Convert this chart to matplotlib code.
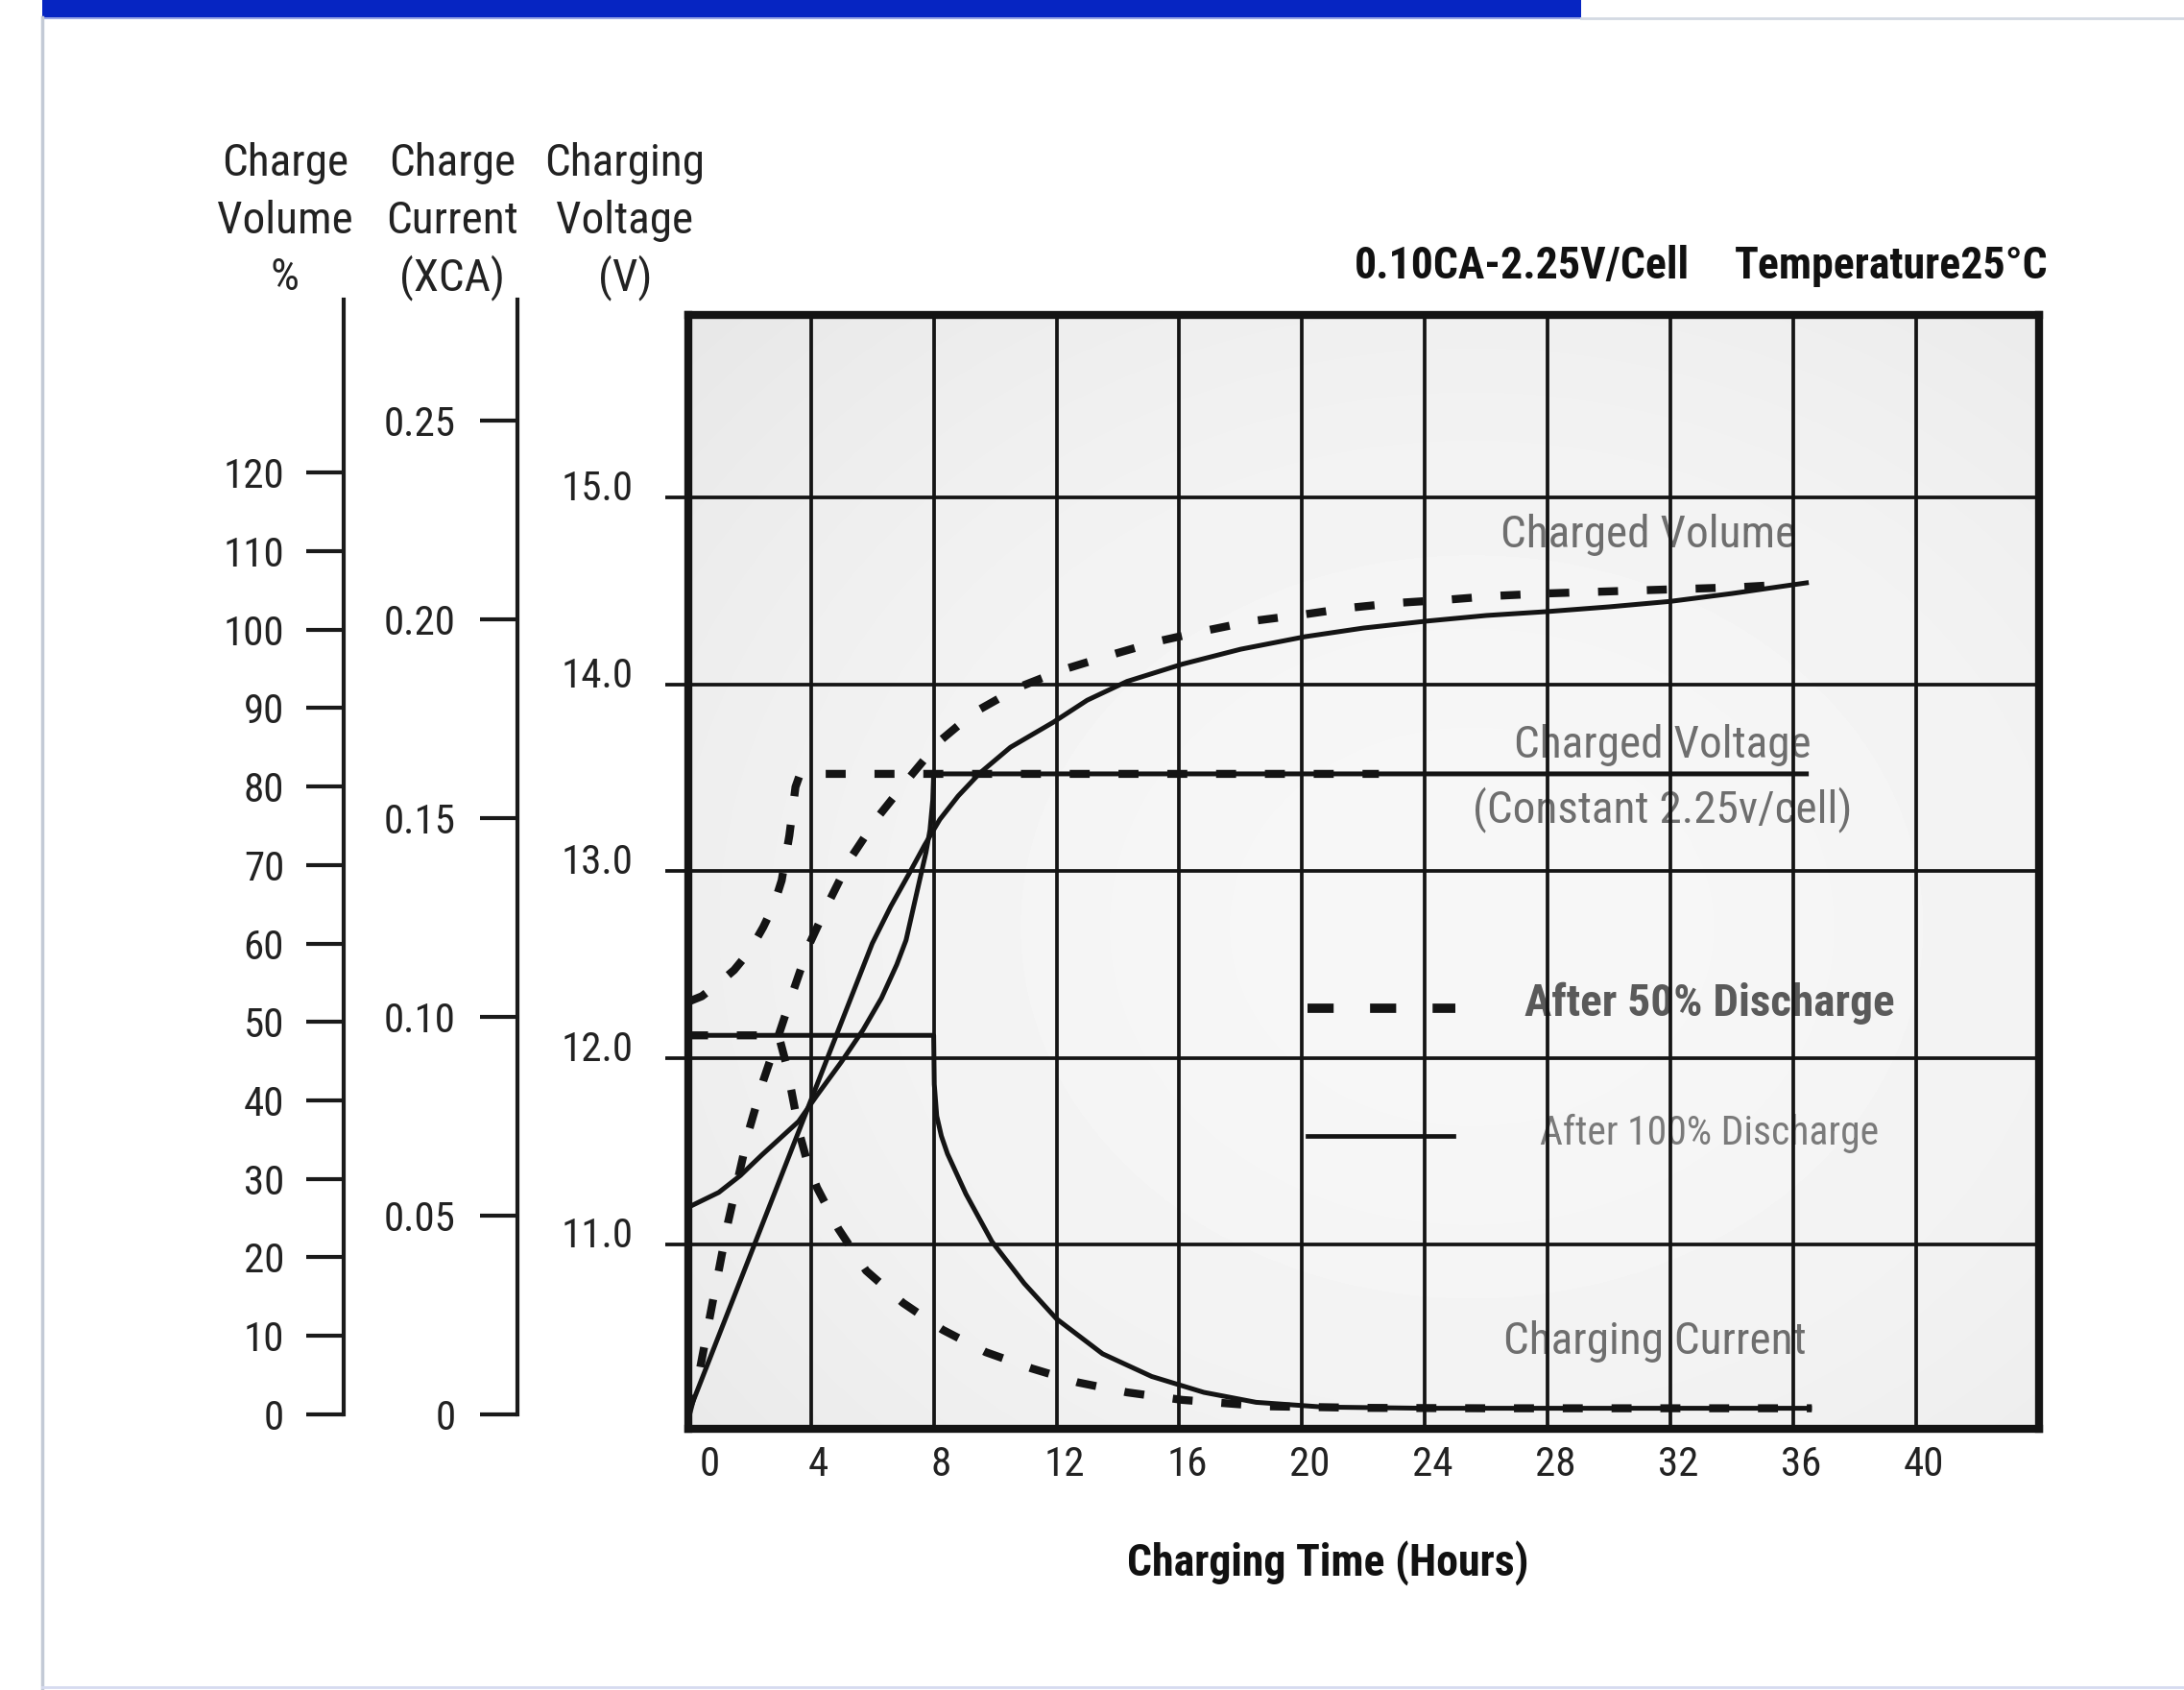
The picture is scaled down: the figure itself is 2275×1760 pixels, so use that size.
import numpy as np
import matplotlib
matplotlib.use("Agg")
import matplotlib.pyplot as plt
from matplotlib import font_manager
from matplotlib.transforms import ScaledTranslation
from matplotlib.patches import Rectangle
from matplotlib.lines import Line2D

# ---------------- data ----------------
X_TICKS = [0, 4, 8, 12, 16, 20, 24, 28, 32, 36, 40]
V_TICKS = [11.0, 12.0, 13.0, 14.0, 15.0]
V_LABELS = ["11.0", "12.0", "13.0", "14.0", "15.0"]
VOL_TICKS = [0, 10, 20, 30, 40, 50, 60, 70, 80, 90, 100, 110, 120]
CUR_TICKS = [0, 0.05, 0.10, 0.15, 0.20, 0.25]
CUR_LABELS = ["0", "0.05", "0.10", "0.15", "0.20", "0.25"]

# After 100% discharge (solid)
HOURS_VOL_100 = [0, 1, 2, 3, 4, 5, 6, 6.6, 7.2, 7.7, 8.2, 8.8, 9.5, 10.5, 11.9, 13.0,
                 14.3, 16.1, 18.0, 20.1, 22.0, 24.1, 26.0, 28.0, 30.0, 32.0, 34.0, 36.5]
VOL_100 = [0, 10, 20, 30, 40, 50, 60, 64.7, 68.9, 72.5, 75.8, 78.8, 81.7, 85.0, 88.2, 91.0,
           93.4, 95.6, 97.5, 99.1, 100.2, 101.1, 101.8, 102.3, 102.9, 103.6, 104.6, 106.0]

HOURS_V_100 = [0, 1.0, 1.7, 2.4, 3.0, 3.6, 4.2, 5.0, 5.7, 6.3, 6.8, 7.1, 7.5, 7.75,
               7.88, 7.97, 8.0, 36.5]
V_100 = [11.20, 11.28, 11.37, 11.48, 11.57, 11.66, 11.80, 11.98, 12.15, 12.32, 12.50,
         12.63, 12.92, 13.10, 13.22, 13.38, 13.52, 13.52]

HOURS_C_100 = [0, 8.0, 8.02, 8.1, 8.25, 8.45, 9.05, 9.9, 10.95, 12.0, 13.5, 15.1, 16.8,
               18.5, 20.7, 24.0, 28.0, 32.0, 36.6]
C_100 = [0.0953, 0.0953, 0.083, 0.075, 0.070, 0.0655, 0.0554, 0.0434, 0.0329, 0.0240,
         0.0152, 0.0095, 0.0055, 0.0030, 0.0018, 0.0015, 0.0015, 0.0015, 0.0015]

# After 50% discharge (dashed)
HOURS_VOL_50 = [0, 0.4, 0.7, 1.0, 1.3, 2.0, 2.45, 2.95, 3.45, 3.95, 4.6, 5.3, 6.2, 7.2,
                8.2, 9.3, 10.8, 12.3, 13.8, 15.3, 16.9, 18.4, 20.0, 21.6, 23.1, 24.7,
                26.3, 27.9, 31.0, 34.2, 36.0]
VOL_50 = [0, 6.0, 12.2, 18.3, 24.4, 36.4, 42.5, 48.3, 54.2, 59.9, 65.4, 70.9, 76.2, 81.1,
          85.8, 89.4, 92.7, 95.0, 96.8, 98.5, 99.9, 101.1, 101.9, 102.8, 103.4, 103.8,
          104.3, 104.6, 105.0, 105.4, 105.8]

HOURS_V_50 = [0, 0.45, 1.0, 1.5, 2.0, 2.45, 2.8, 3.05, 3.3, 3.5, 3.65, 22.5]
V_50 = [12.30, 12.33, 12.40, 12.47, 12.57, 12.70, 12.82, 12.95, 13.19, 13.45, 13.52, 13.52]

HOURS_C_50 = [0, 2.95, 3.2, 3.45, 3.65, 3.9, 4.2, 4.9, 5.8, 7.0, 8.3, 9.7, 11.2, 12.7,
              14.3, 16.1, 18.8, 22.0, 26.0, 30.0, 36.6]
C_50 = [0.0953, 0.0953, 0.088, 0.078, 0.070, 0.063, 0.0570, 0.0466, 0.0361, 0.0280,
        0.0212, 0.0156, 0.0115, 0.0080, 0.0055, 0.0036, 0.0020, 0.0016, 0.0015, 0.0015,
        0.0015]

# ---------------- fonts ----------------
_names = {f.name for f in font_manager.fontManager.ttflist}
NARROW = next((n for n in ["Liberation Sans Narrow", "Roboto Condensed",
                           "Liberation Sans", "Roboto"] if n in _names), "DejaVu Sans")
plt.rcParams["font.family"] = [NARROW, "DejaVu Sans"]

W, H = 2275, 1760
DPI = 100
fig = plt.figure(figsize=(W / DPI, H / DPI), dpi=DPI)
fig.patch.set_facecolor("white")


def fx(px):
    return px / W


def fy(py):
    return 1 - py / H


def pt(px):
    return px * 72 / DPI


INK = "#141414"
TXT = "#222222"
GREY = "#6e6e6e"

PLOT_L, PLOT_R, PLOT_T, PLOT_B = 716.7, 2124, 328, 1488
ax = fig.add_axes([fx(PLOT_L), fy(PLOT_B), fx(PLOT_R) - fx(PLOT_L), fy(PLOT_T) - fy(PLOT_B)])

# gradient background
yy, xx = np.mgrid[0:1:200j, 0:1:300j]
r = np.sqrt(((xx - 0.58) / 0.75) ** 2 + ((yy - 0.55) / 0.75) ** 2)
g = 0.968 - 0.055 * r ** 2
ax.imshow(g, extent=(0, 1, 0, 1), transform=ax.transAxes, cmap="gray", vmin=0, vmax=1,
          aspect="auto", zorder=0, interpolation="bilinear")

ax.set_xlim(0, 44)
ax.set_ylim(10.015, 15.976)
ax.set_xticks(X_TICKS)
ax.set_yticks(V_TICKS, V_LABELS)
ax.grid(True, color=INK, lw=2.7)
ax.set_axisbelow(False)
for s in ax.spines.values():
    s.set_linewidth(6)
    s.set_color(INK)
    s.set_zorder(6)
ax.tick_params(axis="x", length=0, pad=12, labelsize=31, labelcolor=TXT)
ax.tick_params(axis="y", direction="out", length=pt(24), width=2.7, color=INK,
               pad=pt(33), labelsize=31, labelcolor=TXT)


def side_axis(offset_px, lims, top, ticks, labels, pad_px):
    a = ax.twinx()
    a.set_ylim(*lims)
    for s in ["right", "top", "bottom"]:
        a.spines[s].set_visible(False)
    sp = a.spines["left"]
    sp.set_visible(True)
    sp.set_position(("outward", pt(offset_px)))
    sp.set_bounds(0, top)
    sp.set_linewidth(3)
    sp.set_color("#1a1a1a")
    a.yaxis.tick_left()
    a.set_yticks(ticks, labels)
    a.tick_params(axis="y", direction="out", length=pt(39), width=3, color="#1a1a1a",
                  pad=pt(pad_px), labelsize=31, labelcolor=TXT)
    return a


axv = side_axis(PLOT_L - 358, (-1.86, 140.1), 142.1, VOL_TICKS,
                [str(v) for v in VOL_TICKS], 23)
axc = side_axis(PLOT_L - 538.6, (-0.00367, 0.2765), 0.2804, CUR_TICKS, CUR_LABELS, 25)

# ---------------- curves ----------------
SOLID = dict(color=INK, lw=3.6, solid_joinstyle="round", solid_capstyle="butt", zorder=4)
DASH = dict(color=INK, lw=6.0, dashes=(2.5, 3.6), dash_capstyle="butt", zorder=4)

ax.plot(HOURS_V_100, V_100, **SOLID)
ax.plot(HOURS_V_50, V_50, **DASH)
axv.plot(HOURS_VOL_100, VOL_100, **SOLID)
axv.plot(HOURS_VOL_50, VOL_50, **DASH)
axc.plot(HOURS_C_100, C_100, **SOLID)
axc.plot(HOURS_C_50, C_50, **DASH)


def afx(px):
    return (px - PLOT_L) / (PLOT_R - PLOT_L)


def afy(py):
    return (PLOT_B - py) / (PLOT_B - PLOT_T)


# curve labels (under grid)
for txt, cx, cy in [("Charged Volume", 1717, 557), ("Charged Voltage", 1732, 776),
                    ("(Constant 2.25v/cell)", 1732, 843), ("Charging Current", 1724, 1397)]:
    ax.text(afx(cx), afy(cy), txt, transform=ax.transAxes, ha="center", va="center",
            fontsize=34, color=GREY, zorder=1)

# legend
ax.plot([afx(1362), afx(1516)], [afy(1050)] * 2, transform=ax.transAxes, color=INK,
        lw=7, dashes=(2.8, 3.9), dash_capstyle="butt", zorder=4, clip_on=False)
ax.plot([afx(1362), afx(1514)], [afy(1183)] * 2, transform=ax.transAxes, color=INK,
        lw=3.4, zorder=4, clip_on=False)
ax.text(afx(1781), afy(1045), "After 50% Discharge", transform=ax.transAxes, ha="center",
        va="center", fontsize=34, fontweight="bold", color="#5a5a5a", zorder=1)
ax.text(afx(1781), afy(1180), "After 100% Discharge", transform=ax.transAxes, ha="center",
        va="center", fontsize=30, color="#7a7a7a", zorder=1)

# tick label offsets
for t in ax.yaxis.get_major_ticks():
    t.label1.set_transform(t.label1.get_transform() +
                           ScaledTranslation(0, 13 / DPI, fig.dpi_scale_trans))
for i, t in enumerate(ax.xaxis.get_major_ticks()):
    dx = 22 if i == 0 else 8
    t.label1.set_transform(t.label1.get_transform() +
                           ScaledTranslation(dx / DPI, 0, fig.dpi_scale_trans))

# ---------------- headers ----------------
for cx, lines in [(297, ["Charge", "Volume", "%"]),
                  (471, ["Charge", "Current", "(XCA)"]),
                  (651, ["Charging", "Voltage", "(V)"])]:
    for line, cy in zip(lines, [170, 230, 289]):
        fig.text(fx(cx), fy(cy), line, ha="center", va="center", fontsize=34, color=TXT)

fig.text(fx(1760), fy(277), "0.10CA-2.25V/Cell", ha="right", va="center", fontsize=33,
         fontweight="bold", color="#111111")
fig.text(fx(2133), fy(277), "Temperature25°C", ha="right", va="center", fontsize=33,
         fontweight="bold", color="#111111")
fig.text(fx(1383), fy(1628), "Charging Time (Hours)", ha="center", va="center",
         fontsize=33, fontweight="bold", color="#111111")

# ---------------- page decoration ----------------
fig.add_artist(Rectangle((fx(44), fy(18)), fx(1647) - fx(44), 18 / H, transform=fig.transFigure,
                         facecolor="#0625c2", edgecolor="none"))
fig.add_artist(Line2D([fx(44), fx(1647)], [fy(19.5)] * 2, transform=fig.transFigure,
                      color="#8595e0", lw=1.2))
fig.add_artist(Line2D([fx(1647), 1], [fy(19)] * 2, transform=fig.transFigure,
                      color="#d3d9e2", lw=2))
fig.add_artist(Line2D([fx(44)] * 2, [fy(18), 0], transform=fig.transFigure,
                      color="#c3cad6", lw=2.5))
fig.add_artist(Line2D([fx(44), 1], [fy(1757)] * 2, transform=fig.transFigure,
                      color="#d6dbf0", lw=2))

fig.savefig("out.png", dpi=DPI, facecolor="white")
